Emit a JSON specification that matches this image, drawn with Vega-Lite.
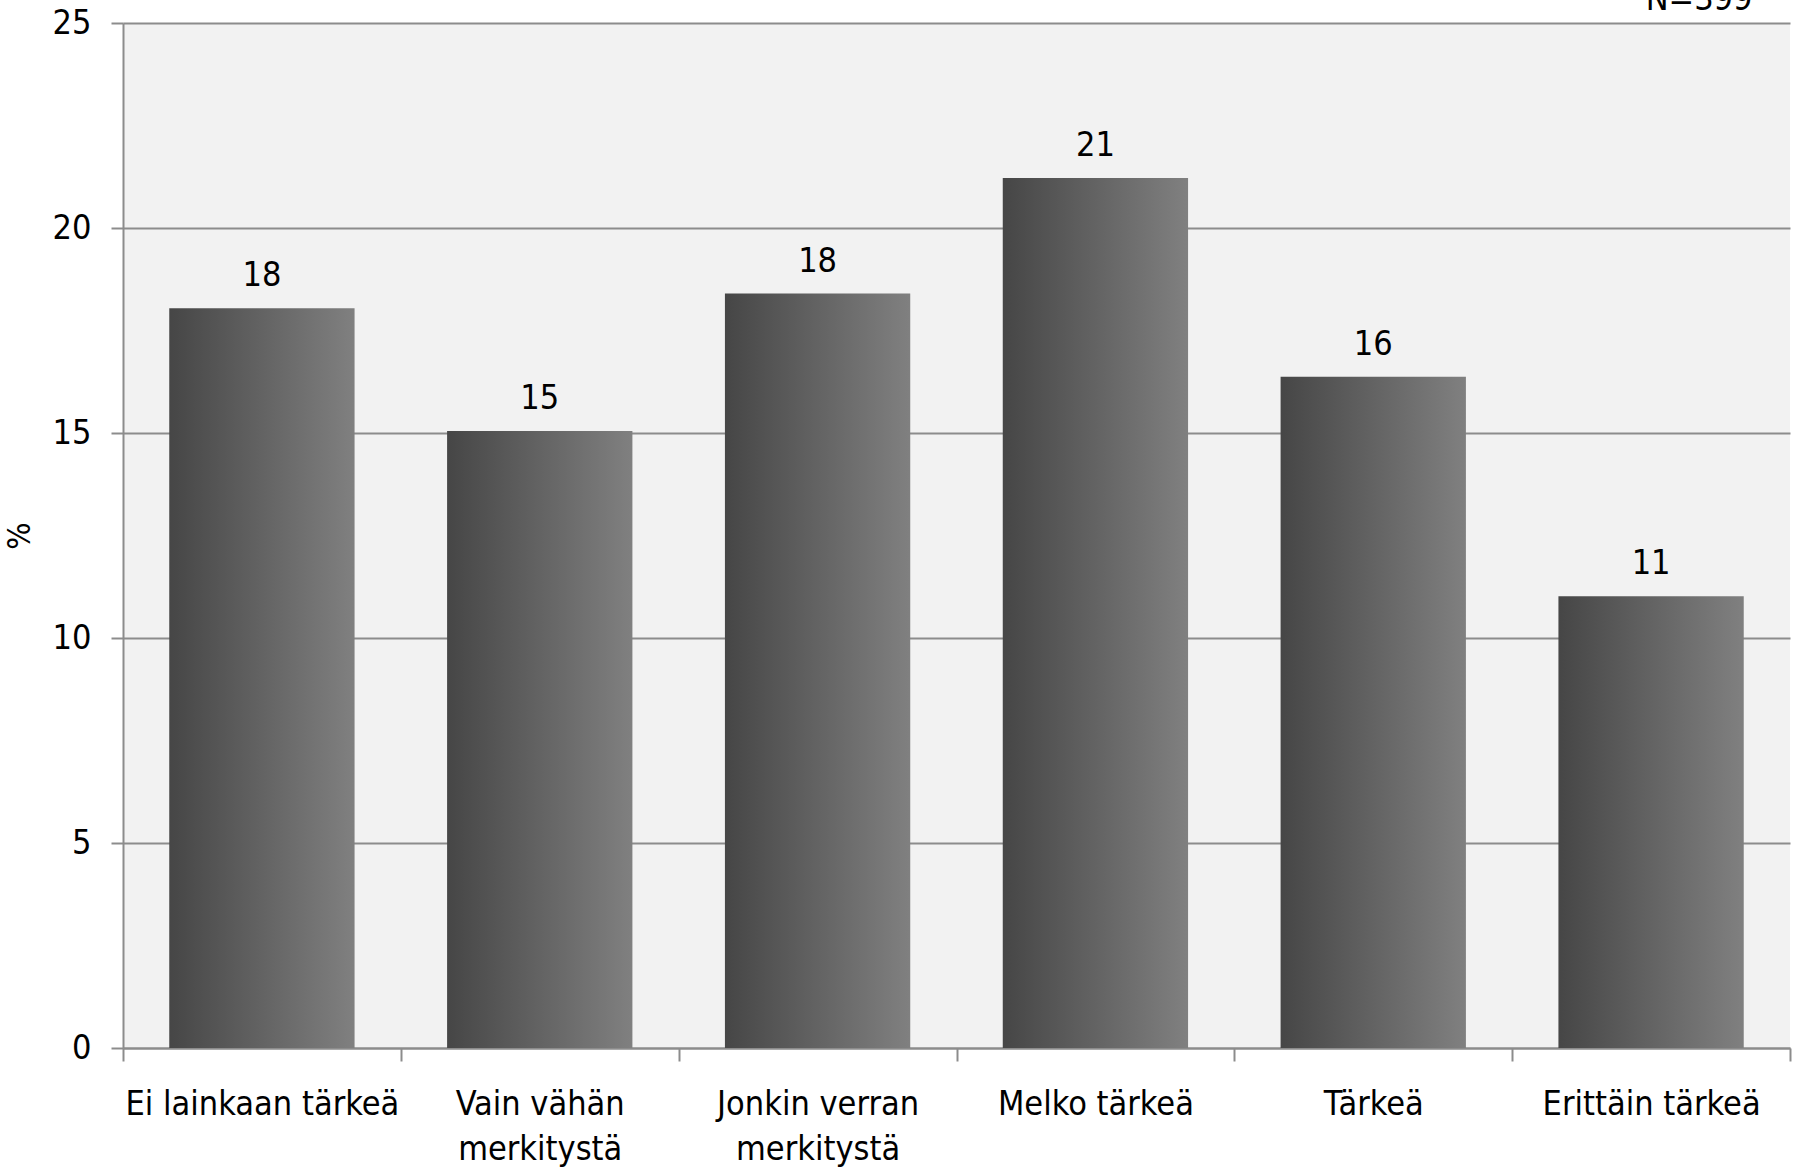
{
  "$schema": "https://vega.github.io/schema/vega-lite/v6.json",
  "autosize": {"type": "none"},
  "padding": {"left": 123, "top": 23, "right": 9, "bottom": 126},
  "width": 1667,
  "height": 1025,
  "background": "white",
  "data": {"values": [
    {"category": "Ei lainkaan tärkeä", "value": 18.04},
    {"category": "Vain vähän merkitystä", "value": 15.05},
    {"category": "Jonkin verran merkitystä", "value": 18.4},
    {"category": "Melko tärkeä", "value": 21.22},
    {"category": "Tärkeä", "value": 16.37},
    {"category": "Erittäin tärkeä", "value": 11.02}
  ]},
  "encoding": {
    "x": {"field": "category", "type": "nominal", "sort": null,
      "scale": {"paddingInner": 0, "paddingOuter": 0},
      "axis": {"title": null, "labelAngle": 0, "tickBand": "extent", "domainColor": "#8c8c8c", "domainWidth": 2, "tickColor": "#8c8c8c", "tickWidth": 2, "tickSize": 13, "labelPadding": 26, "labelLimit": 0, "labelFont": "DejaVu Sans Condensed, Roboto, sans-serif", "labelFontSize": 34, "labelColor": "black", "labelLineHeight": 45, "labelBaseline": "top",
        "labelExpr": "datum.label == 'Vain vähän merkitystä' ? ['Vain vähän','merkitystä'] : datum.label == 'Jonkin verran merkitystä' ? ['Jonkin verran','merkitystä'] : datum.label"}},
    "y": {"field": "value", "type": "quantitative",
      "scale": {"domain": [0, 25], "nice": false},
      "axis": {"title": "%", "titleFont": "DejaVu Sans Condensed, Roboto, sans-serif", "titleFontSize": 32, "titleFontWeight": "normal", "titleColor": "black", "titlePadding": 16, "values": [0, 5, 10, 15, 20, 25], "grid": true, "gridColor": "#8c8c8c", "gridWidth": 2, "domainColor": "#8c8c8c", "domainWidth": 2, "tickColor": "#8c8c8c", "tickWidth": 2, "tickSize": 12, "labelPadding": 20, "labelFont": "DejaVu Sans Condensed, Roboto, sans-serif", "labelFontSize": 34, "labelColor": "black"}}
  },
  "layer": [
    {"mark": {"type": "bar", "width": {"band": 0.667},
      "color": {"gradient": "linear", "x1": 0, "x2": 1, "y1": 0, "y2": 0, "stops": [{"offset": 0, "color": "#464646"}, {"offset": 1, "color": "#808080"}]}}},
    {"mark": {"type": "text", "baseline": "alphabetic", "dy": -22, "font": "DejaVu Sans Condensed, Roboto, sans-serif", "fontSize": 34, "color": "black"},
      "encoding": {"text": {"field": "value", "type": "quantitative", "format": ".0f"}}},
    {"transform": [{"filter": "datum.category == 'Erittäin tärkeä'"}],
      "mark": {"type": "text", "baseline": "alphabetic", "align": "center", "dx": 48, "dy": -13, "font": "DejaVu Sans Condensed, Roboto, sans-serif", "fontSize": 34, "color": "black"},
      "encoding": {"y": {"datum": 25}, "text": {"value": "N=399"}}}
  ],
  "config": {"view": {"fill": "#f2f2f2", "stroke": null}}
}
